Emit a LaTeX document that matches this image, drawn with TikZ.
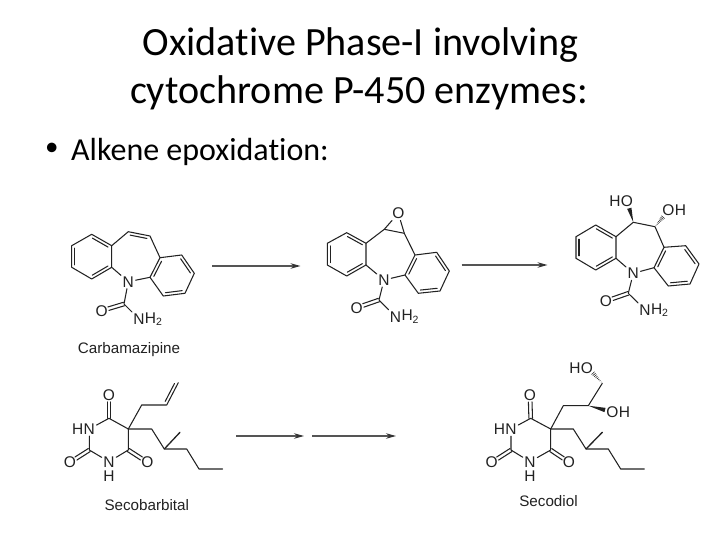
\documentclass[tikz,border=0pt]{standalone}
\usepackage{fontspec}
\setmainfont{Carlito}[Ligatures=CommonOff]
\newfontfamily\chemfont{Liberation Sans}
\usetikzlibrary{calc,arrows.meta}
\definecolor{ink}{HTML}{222222}
\definecolor{arrowgrey}{HTML}{555555}
\tikzset{
  bond/.style={draw=ink,line width=1.05pt,line cap=round,line join=round},
  inner bond/.style={bond,shorten <=2.5pt,shorten >=2.5pt},
  atom/.style={font=\chemfont\fontsize{15.5}{15.5}\selectfont,text=ink,inner sep=1.5pt},
  atomtail/.style={atom,inner sep=0pt,anchor=west,xshift=-1.5pt},
  atomhead/.style={atom,inner sep=0pt,anchor=east,xshift=1.5pt},
  caption/.style={font=\chemfont\fontsize{15.2}{15.2}\selectfont,text=ink,inner sep=0pt},
  titletext/.style={font=\fontsize{40.1}{40.1}\selectfont,text=black,inner sep=0pt},
  bodytext/.style={font=\fontsize{32}{32}\selectfont,text=black,inner sep=0pt},
  bullettext/.style={font=\fontsize{27}{27}\selectfont,text=black,inner sep=0pt},
  rxn/.style={draw=arrowgrey,line width=1.2pt,-{Stealth[length=10pt,width=5.5pt,color=black!80]}}
}
\newcommand{\ringdbl}[2]{\draw[inner bond] ($(#1)!3pt!-90:(#2)$) -- ($(#2)!3pt!90:(#1)$);}
\newcommand{\codbl}[2]{\draw[bond,shorten >=7pt] ($(#1)!1.8pt!90:(#2)$) -- ($(#2)!1.8pt!-90:(#1)$);
  \draw[bond,shorten >=7pt] ($(#1)!1.8pt!-90:(#2)$) -- ($(#2)!1.8pt!90:(#1)$);}
\newcommand{\wedgeb}[2]{\fill[ink] (#1) -- ($(#2)!2.2pt!90:(#1)$) -- ($(#2)!2.2pt!-90:(#1)$) -- cycle;}
\newcommand{\hashb}[2]{\foreach \t in {0.12,0.24,...,1.0}{
  \pgfmathsetmacro{\hw}{2.2*\t}
  \draw[ink,line width=0.55pt] ($($(#1)!\t!(#2)$)!\hw pt!90:(#2)$) -- ($($(#1)!\t!(#2)$)!\hw pt!-90:(#2)$);}}
\newcommand{\subtwo}{\raisebox{-2.5pt}{\fontsize{10.5}{10.5}\selectfont 2}}
\begin{document}
\begin{tikzpicture}[x=1pt,y=-1pt]
\useasboundingbox[fill=white] (0,0) rectangle (720,540);

% Headings
\node[titletext] (title1) at (360.5,45.5) {Oxidative Phase-I involving};
\node[titletext] (title2) at (359,93) {cytochrome P-450 enzymes:};
\node[bullettext,anchor=west] (bullet) at (45,149.5) {•};
\node[bodytext,anchor=west] (alkene) at (71,151.5) {Alkene epoxidation:};

% ---------- Carbamazipine
\coordinate (a1) at (91.7,234.3);
\coordinate (a2) at (111.7,245.7);
\coordinate (a3) at (111.7,267.3);
\coordinate (a4) at (91.7,279);
\coordinate (a5) at (71.7,267.3);
\coordinate (a6) at (71.7,245.7);
\coordinate (a7) at (128.3,231.7);
\coordinate (a8) at (150,236);
\coordinate (a9) at (160,257.7);
\coordinate (a10) at (181.7,255);
\coordinate (a11) at (194.3,273.3);
\coordinate (a12) at (185,293.3);
\coordinate (a13) at (163.3,296);
\coordinate (a14) at (150,277.3);
\coordinate (a15) at (124,304);
\node[atom] (aN) at (128.3,281.7) {N};
\node[atom] (aO) at (101.7,310.7) {O};
\node[atom] (aN2) at (139,319) {N};
\node[atomtail] (aH2) at (aN2.east) {H\subtwo};
\draw[bond] (a1)--(a2)--(a3)--(a4)--(a5)--(a6)--cycle;
\draw[bond] (a2)--(a7)--(a8)--(a9)--(a10)--(a11)--(a12)--(a13)--(a14)--(a9);
\draw[bond] (a3)--(aN) (aN)--(a14) (aN)--(a15) (a15)--(aN2);
\ringdbl{a1}{a2}\ringdbl{a3}{a4}\ringdbl{a5}{a6}
\ringdbl{a7}{a8}
\ringdbl{a10}{a11}\ringdbl{a12}{a13}\ringdbl{a14}{a9}
\codbl{a15}{aO}
\node[caption] (acap) at (129,350) {Carbamazipine};

% ---------- Epoxide
\coordinate (b1) at (346.7,232.7);
\coordinate (b2) at (366,243.3);
\coordinate (b3) at (366,265);
\coordinate (b4) at (346.7,276);
\coordinate (b5) at (327.3,265);
\coordinate (b6) at (327.3,243.3);
\coordinate (b7) at (384.3,229.3);
\coordinate (b8) at (404.3,233.3);
\coordinate (b9) at (415,255);
\coordinate (b10) at (436.7,252.3);
\coordinate (b11) at (449.3,271);
\coordinate (b12) at (440,291);
\coordinate (b13) at (418.3,293.3);
\coordinate (b14) at (405,275);
\coordinate (b15) at (379,300);
\node[atom] (bOx) at (398.3,213.3) {O};
\node[atom] (bN) at (384,280) {N};
\node[atom] (bO) at (356.7,307.7) {O};
\node[atom] (bN2) at (395.5,316.7) {N};
\node[atomtail] (bH2) at (bN2.east) {H\subtwo};
\draw[bond] (b1)--(b2)--(b3)--(b4)--(b5)--(b6)--cycle;
\draw[bond] (b2)--(b7)--(b8)--(b9)--(b10)--(b11)--(b12)--(b13)--(b14)--(b9);
\draw[bond] (b7)--(bOx) (bOx)--(b8);
\draw[bond] (b3)--(bN) (bN)--(b14) (bN)--(b15) (b15)--(bN2);
\ringdbl{b1}{b2}\ringdbl{b3}{b4}\ringdbl{b5}{b6}
\ringdbl{b10}{b11}\ringdbl{b12}{b13}\ringdbl{b14}{b9}
\codbl{b15}{bO}

% ---------- Diol
\coordinate (c1) at (595.7,225);
\coordinate (c2) at (616,236.7);
\coordinate (c3) at (616,258.3);
\coordinate (c4) at (595.7,270);
\coordinate (c5) at (576,258.3);
\coordinate (c6) at (576,236.7);
\coordinate (c7) at (633.3,222.3);
\coordinate (c8) at (655,226.7);
\coordinate (c9) at (664,247.3);
\coordinate (c10) at (685.7,245.7);
\coordinate (c11) at (699,264);
\coordinate (c12) at (690,284);
\coordinate (c13) at (668.3,286);
\coordinate (c14) at (654,267.7);
\coordinate (c15) at (628.3,293.3);
\coordinate (cW) at (629.3,208.3);
\coordinate (cX) at (663.3,216.7);
\node[atom] (cN) at (633.3,273.3) {N};
\node[atom] (cO) at (606,301) {O};
\node[atom] (cN2) at (645,310) {N};
\node[atomtail] (cH2) at (cN2.east) {H\subtwo};
\node[atom] (cO1) at (627,200.7) {O};
\node[atomhead] (cH1) at (cO1.west) {H};
\node[atom] (cO3) at (668.5,210) {O};
\node[atomtail] (cH3) at (cO3.east) {H};
\draw[bond] (c1)--(c2)--(c3)--(c4)--(c5)--(c6)--cycle;
\draw[bond] (c2)--(c7)--(c8)--(c9)--(c10)--(c11)--(c12)--(c13)--(c14)--(c9);
\draw[bond] (c3)--(cN) (cN)--(c14) (cN)--(c15) (c15)--(cN2);
\ringdbl{c1}{c2}\ringdbl{c3}{c4}\ringdbl{c5}{c6}
\ringdbl{c10}{c11}\ringdbl{c12}{c13}\ringdbl{c14}{c9}
\codbl{c15}{cO}
\wedgeb{c7}{cW}
\hashb{c8}{cX}

% ---------- Secobarbital
\coordinate (d4) at (109,418.3);
\coordinate (d5) at (128.3,429);
\coordinate (d6) at (128.3,450);
\coordinate (d2) at (89.3,450);
\coordinate (d7) at (141.7,405);
\coordinate (d8) at (166.7,405);
\coordinate (d9) at (178.3,382.7);
\coordinate (d10) at (151.7,429);
\coordinate (d11) at (164.3,449);
\coordinate (d12) at (180,432.3);
\coordinate (d13) at (186.7,449);
\coordinate (d14) at (199,469);
\coordinate (d15) at (222.7,469);
\node[atom] (dN3) at (89.3,429) {N};
\node[atomhead] (dH3) at (dN3.west) {H};
\node[atom] (dN1) at (109,461.7) {N};
\node[atom,inner sep=0pt] (dH1) at (109,476) {H};
\node[atom] (dOa) at (109,395) {O};
\node[atom] (dOb) at (147.3,462.3) {O};
\node[atom] (dOc) at (70,462.3) {O};
\draw[bond] (dN3)--(d4) (d4)--(d5) (d5)--(d6) (d6)--(dN1) (dN1)--(d2) (d2)--(dN3);
\draw[bond] (d5)--(d7)--(d8)--(d9);
\draw[bond] (d5)--(d10)--(d11)--(d13)--(d14)--(d15);
\draw[bond,line width=1.3pt] (d11)--(d12);
\ringdbl{d9}{d8}
\codbl{d4}{dOa}\codbl{d6}{dOb}\codbl{d2}{dOc}
\node[caption] (dcap) at (146.8,505) {Secobarbital};

% ---------- Secodiol
\coordinate (e4) at (530.7,418.3);
\coordinate (e5) at (550.7,429);
\coordinate (e6) at (550.7,450);
\coordinate (e2) at (511,450);
\coordinate (e7) at (563.3,405.7);
\coordinate (e8) at (588.3,405.7);
\coordinate (e9) at (602.3,383.3);
\coordinate (eX) at (592.7,372.7);
\coordinate (eW) at (605,410);
\coordinate (e10) at (573.3,429);
\coordinate (e11) at (586,449);
\coordinate (e12) at (602.3,432.3);
\coordinate (e13) at (608.3,449);
\coordinate (e14) at (620.7,469);
\coordinate (e15) at (644.3,469);
\node[atom] (eN3) at (511,429) {N};
\node[atomhead] (eH3) at (eN3.west) {H};
\node[atom] (eN1) at (530,461.7) {N};
\node[atom,inner sep=0pt] (eH1) at (530,476) {H};
\node[atom] (eOa) at (530,395) {O};
\node[atom] (eOb) at (569,462.3) {O};
\node[atom] (eOc) at (491.7,462.3) {O};
\node[atom] (eO1) at (587,367.7) {O};
\node[atomhead] (eH4) at (eO1.west) {H};
\node[atom] (eO2) at (612.5,411.7) {O};
\node[atomtail] (eH5) at (eO2.east) {H};
\draw[bond] (eN3)--(e4) (e4)--(e5) (e5)--(e6) (e6)--(eN1) (eN1)--(e2) (e2)--(eN3);
\draw[bond] (e5)--(e7)--(e8)--(e9);
\draw[bond] (e5)--(e10)--(e11)--(e13)--(e14)--(e15);
\draw[bond,line width=1.3pt] (e11)--(e12);
\codbl{e4}{eOa}\codbl{e6}{eOb}\codbl{e2}{eOc}
\wedgeb{e8}{eW}
\hashb{e9}{eX}
\node[caption] (ecap) at (548.5,500.7) {Secodiol};

% ---------- Reaction arrows
\coordinate (r1s) at (212.3,266);
\coordinate (r1e) at (300.5,266);
\coordinate (r2s) at (461.7,265);
\coordinate (r2e) at (547.5,265);
\coordinate (r3s) at (236,436);
\coordinate (r3e) at (304,436);
\coordinate (r4s) at (312,436);
\coordinate (r4e) at (396,436);
\draw[rxn] (r1s) -- (r1e);
\draw[rxn] (r2s) -- (r2e);
\draw[rxn] (r3s) -- (r3e);
\draw[rxn] (r4s) -- (r4e);
\end{tikzpicture}
\end{document}
